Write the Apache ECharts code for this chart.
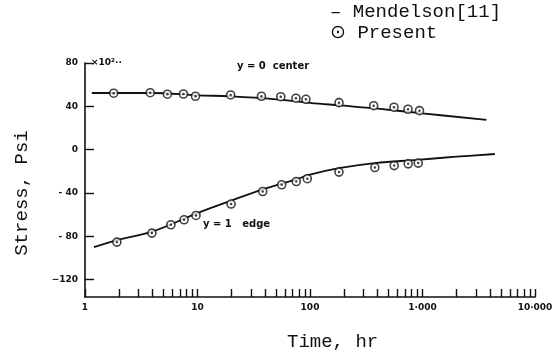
<!DOCTYPE html>
<html><head><meta charset="utf-8">
<script src="https://cdn.jsdelivr.net/npm/echarts@6/dist/echarts.min.js"></script>
<style>html,body{margin:0;padding:0;background:#fff}#c{width:559px;height:352px}</style>
</head><body><div id="c"></div>
<script>
// Data
const centerTime   = [1.8, 3.8, 5.4, 7.5, 9.6, 19.7, 37, 55, 75, 92, 181, 368, 558, 743, 940];
const centerStress = [52.1, 52.6, 51.2, 51.4, 49.3, 50.5, 49.3, 48.9, 47.5, 46.5, 43.4, 40.6, 39.2, 37.3, 36.0];
const edgeTime     = [1.92, 3.93, 5.8, 7.6, 9.7, 19.9, 38, 56, 75.5, 94.6, 181, 377, 560, 746, 916];
const edgeStress   = [-85.3, -77, -69.3, -64.7, -60.7, -50.2, -38.6, -32.4, -29.4, -26.8, -20.7, -16.5, -14.7, -13.1, -12.4];
const centerLineTime   = [1.15, 4, 10, 20, 50, 100, 200, 400, 1000, 3700];
const centerLineStress = [52.3, 52.3, 50.2, 49.2, 46.5, 43.2, 40.6, 37.8, 33.5, 27.5];
const edgeLineTime   = [1.2, 2, 4, 10, 20, 40, 75, 100, 181, 377, 900, 2000, 4400];
const edgeLineStress = [-90, -83, -75.5, -58.5, -47, -36, -27.5, -23, -17, -12.4, -9.4, -6.5, -4];
const yTicks = [80, 40, 0, -40, -80, -120];
const yTickLabels = ['80', '40', '0', '- 40', '- 80', '\u2212120'];
const xTicks = [1, 10, 100, 1000, 10000];
const xTickLabels = ['1', '10', '100', '1\u00b7000', '10\u00b7000'];
const xMinorTicks = [];
[1, 10, 100, 1000].forEach(d => { for (let k = 1; k <= 9; k++) xMinorTicks.push(k * d); });
xMinorTicks.push(10000);

const zip = (a, b) => a.map((v, i) => [v, b[i]]);
const chart = echarts.init(document.getElementById('c'), null, {renderer: 'canvas'});
const labelFont = {fontFamily: 'DejaVu Sans', fontWeight: 'bold', fontSize: 9, color: '#111'};
const mono = {fontFamily: 'Liberation Mono', fontSize: 19, fill: '#111'};
const annot = {fontFamily: 'DejaVu Sans', fontWeight: 'bold', fontSize: 10, fill: '#111'};
const markerStyle = {color: '#fff', borderColor: '#111', borderWidth: 1.6};

chart.setOption({
  animation: false,
  backgroundColor: '#fff',
  grid: {left: 85, top: 63, right: 24, bottom: 55},
  xAxis: {
    type: 'log', logBase: 10, min: 1, max: 10000,
    axisLine: {onZero: false, lineStyle: {color: '#111', width: 1.6}},
    axisTick: {inside: true, length: 8, customValues: xMinorTicks, lineStyle: {color: '#111', width: 1.4}},
    axisLabel: Object.assign({
      customValues: xTicks, margin: 6,
      formatter: v => { const i = xTicks.findIndex(t => Math.abs(t - v) < 1e-6 * t); return i >= 0 ? xTickLabels[i] : ''; }
    }, labelFont),
    splitLine: {show: false}
  },
  yAxis: {
    type: 'value', min: -136, max: 80,
    axisLine: {show: true, onZero: false, lineStyle: {color: '#111', width: 1.6}},
    axisTick: {show: true, inside: true, length: 9, customValues: yTicks, lineStyle: {color: '#111', width: 1.4}},
    axisLabel: Object.assign({
      customValues: yTicks, margin: 7,
      formatter: v => { const i = yTicks.indexOf(v); return i >= 0 ? yTickLabels[i] : ''; }
    }, labelFont),
    splitLine: {show: false}
  },
  series: [
    {name: 'Mendelson[11]', type: 'line', data: zip(centerLineTime, centerLineStress), smooth: 0.4, showSymbol: false, symbol: 'none',
     lineStyle: {color: '#111', width: 1.8}},
    {name: 'Mendelson[11]', type: 'line', data: zip(edgeLineTime, edgeLineStress), smooth: 0.4, showSymbol: false, symbol: 'none',
     lineStyle: {color: '#111', width: 1.8}},
    {name: 'Present', type: 'scatter', data: zip(centerTime, centerStress), symbol: 'circle', symbolSize: 8, itemStyle: markerStyle, z: 3},
    {name: 'Present', type: 'scatter', data: zip(edgeTime, edgeStress), symbol: 'circle', symbolSize: 8, itemStyle: markerStyle, z: 3},
    {name: 'dot', type: 'scatter', data: zip(centerTime, centerStress).concat(zip(edgeTime, edgeStress)), symbol: 'circle', symbolSize: 2.5,
     itemStyle: {color: '#111'}, z: 4, silent: true}
  ],
  graphic: [
    {type: 'text', left: 330, top: 2, style: Object.assign({text: '\u2012 Mendelson[11]'}, mono)},
    {type: 'text', left: 330, top: 23, style: Object.assign({text: '\u2299 Present'}, mono)},
    {type: 'text', left: 91, top: 58, style: {text: '\u00d710\u00b2\u00b7\u00b7', fontFamily: 'DejaVu Sans', fontWeight: 'bold', fontSize: 9, fill: '#111'}},
    {type: 'text', left: 237, top: 61, style: Object.assign({text: 'y = 0  center'}, annot)},
    {type: 'text', left: 203, top: 219, style: Object.assign({text: 'y = 1   edge'}, annot)},
    {type: 'text', x: 22, y: 193, rotation: Math.PI / 2, style: Object.assign({text: 'Stress, Psi', align: 'center', verticalAlign: 'middle'}, mono)},
    {type: 'text', left: 287, top: 332, style: Object.assign({text: 'Time, hr'}, mono)}
  ]
});
</script></body></html>
